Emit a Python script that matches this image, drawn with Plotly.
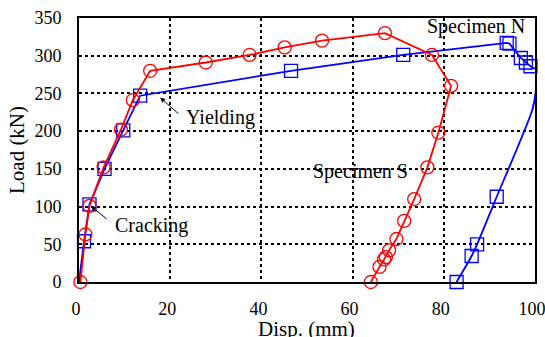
import plotly.graph_objects as go

# Specimen S (red, circles)
s_disp = [0.3, 1.4, 2.3, 5.4, 9.2, 11.8, 15.6, 27.8, 37.4, 45.1, 53.3, 67.1, 77.4, 81.6,
          78.8, 76.4, 73.5, 71.3, 69.6, 68.0, 67.3, 66.9, 65.9, 64.0]
s_load = [0, 63, 101, 152, 202, 241, 280, 291, 301, 311, 320, 330, 301, 260,
          198, 152, 110, 81, 57, 42, 33, 30, 20, 0]

# Specimen N (blue, squares) - loading branch
n_load_disp = [0.0, 1.1, 2.3, 5.6, 9.7, 13.4, 46.5, 71.1, 93.8, 94.4, 96.9, 98.0, 99.0, 100.2]
n_load_load = [0, 54, 103, 150, 201, 247, 280, 301, 317, 316, 297, 291, 286, 282]
n_load_mark = [False, True, True, True, True, True, True, True, True, True, True, True, True, True]

# Specimen N - unloading branch (smooth curve)
n_unl_disp = [100.2, 100.3, 99.4, 91.6, 87.3, 86.1, 82.8]
n_unl_load = [282, 262, 228, 113, 50, 34.5, 0]
n_unl_mark = [False, False, False, True, True, True, True]

x_ticks = [0, 20, 40, 60, 80, 100]
y_ticks = [0, 50, 100, 150, 200, 250, 300, 350]

RED = "#ff0000"
BLUE = "#0000ff"
FONT = "Liberation Serif, Times New Roman, serif"

fig = go.Figure()

fig.add_trace(go.Scatter(x=n_load_disp, y=n_load_load, mode="lines",
                         line=dict(color=BLUE, width=1.8), showlegend=False))
fig.add_trace(go.Scatter(x=n_unl_disp, y=n_unl_load, mode="lines",
                         line=dict(color=BLUE, width=1.8, shape="spline", smoothing=0.6),
                         showlegend=False))
mx = [x for x, m in zip(n_load_disp, n_load_mark) if m] + [x for x, m in zip(n_unl_disp, n_unl_mark) if m]
my = [y for y, m in zip(n_load_load, n_load_mark) if m] + [y for y, m in zip(n_unl_load, n_unl_mark) if m]
fig.add_trace(go.Scatter(x=mx, y=my, mode="markers",
                         marker=dict(symbol="square-open", size=13, color=BLUE, line=dict(width=1.3)),
                         showlegend=False, cliponaxis=False))

fig.add_trace(go.Scatter(x=s_disp, y=s_load, mode="lines+markers",
                         line=dict(color=RED, width=1.8),
                         marker=dict(symbol="circle-open", size=13, color=RED, line=dict(width=1.3)),
                         showlegend=False, cliponaxis=False))

axis_common = dict(showline=True, linecolor="black", linewidth=2, mirror=True,
                   showgrid=True, gridcolor="black", gridwidth=1.5, griddash="dot",
                   zeroline=False, ticks="", automargin=False, ticklabeloverflow="allow",
                   tickfont=dict(family=FONT, size=18, color="black"))

fig.update_xaxes(range=[0, 100], tickvals=x_ticks, ticklabelstandoff=9, ticklabelshift=-3,
                 **axis_common)
fig.update_yaxes(range=[0, 350], tickvals=y_ticks, ticklabelstandoff=12,
                 title=dict(text="Load (kN)", font=dict(family=FONT, size=21, color="black"), standoff=4),
                 **axis_common)

# x-axis title placed as paper annotation
fig.add_annotation(x=0.498, y=-0.178, xref="paper", yref="paper", xanchor="center", yanchor="middle",
                   text="Disp. (mm)", showarrow=False, borderpad=0,
                   font=dict(family=FONT, size=21, color="black"))

ann_font = dict(family=FONT, size=20, color="black")
fig.add_annotation(x=17.8, y=244.5, ax=22.1, ay=221.5, axref="x", ayref="y", xref="x", yref="y",
                   text="", showarrow=True, arrowhead=2, arrowsize=1, arrowwidth=1, arrowcolor="black")
fig.add_annotation(x=31.0, y=217.5, text="Yielding", showarrow=False, font=ann_font)
fig.add_annotation(x=2.6, y=100.6, ax=6.4, ay=82, axref="x", ayref="y", xref="x", yref="y",
                   text="", showarrow=True, arrowhead=2, arrowsize=1, arrowwidth=1, arrowcolor="black")
fig.add_annotation(x=16.0, y=74.4, text="Cracking", showarrow=False, font=ann_font)
fig.add_annotation(x=87.0, y=338.8, text="Specimen N", showarrow=False, font=ann_font)
fig.add_annotation(x=61.8, y=146.2, text="Specimen S", showarrow=False, font=ann_font)

fig.update_layout(width=545, height=337, margin=dict(l=79, r=10, t=18, b=55),
                  plot_bgcolor="white", paper_bgcolor="white",
                  font=dict(family=FONT, color="black"))

fig.write_html("out.html", config={"displayModeBar": False},
               post_script="document.body.style.margin='0';document.body.style.overflow='hidden';")
